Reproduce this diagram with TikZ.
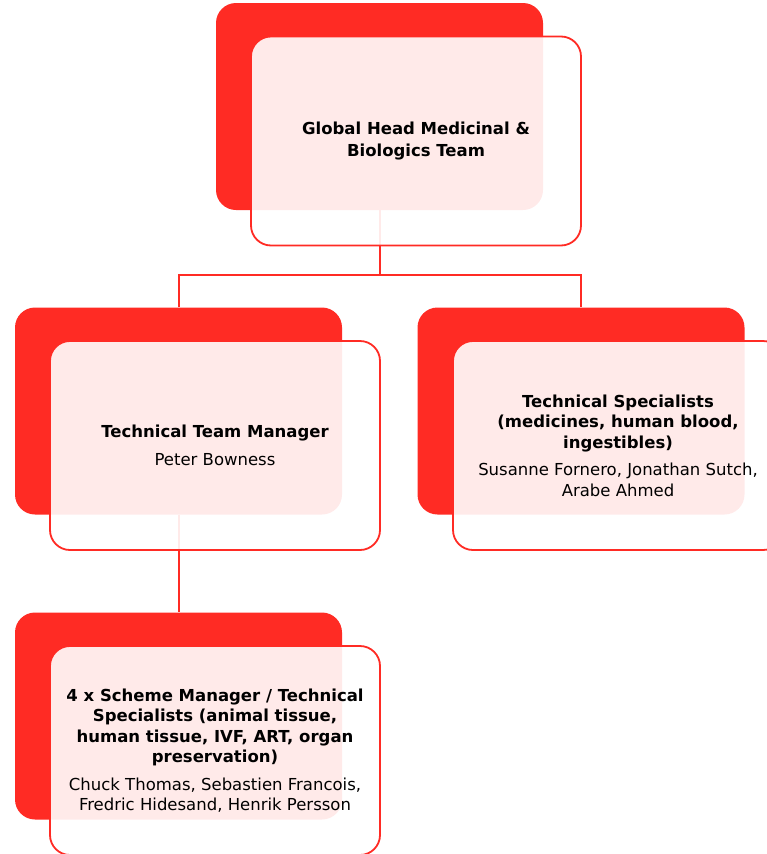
\documentclass[tikz,border=0pt]{standalone}
\usepackage{fontspec}
\setmainfont{DejaVu Sans}
\begin{document}
\begin{tikzpicture}[x=1pt,y=-1pt,
  back/.style={rectangle, rounded corners=20pt, fill=myred, draw=none,
    minimum width=327pt, minimum height=207pt, inner sep=0pt},
  front/.style={rectangle, rounded corners=20pt, draw=myred, line width=1.8pt,
    fill=white, fill opacity=0.9, text opacity=1, align=center,
    minimum width=330pt, minimum height=209pt, inner sep=0pt,
    font=\fontsize{16.5pt}{20.5pt}\selectfont},
  conn/.style={draw=myred, line width=2pt}
]
\definecolor{myred}{RGB}{255,43,36}
\useasboundingbox (0,0) rectangle (767,854);
% back boxes
\node[back] (topR) at (379.5,106.5) {};
\node[back] (leftR) at (178.5,411) {};
\node[back] (rightR) at (581,411) {};
\node[back] (botR) at (178.5,716) {};
% connectors
\coordinate (j) at (379.5,275);
\draw[conn] (topR.south) -- (j);
\draw[conn] (leftR.north) |- (j) -| (rightR.north);
\draw[conn] (leftR.south) -- (botR.north);
% front boxes
\node[front] (topF) at (416,141) {\textbf{Global Head Medicinal \&}\\[1.5pt]\textbf{Biologics Team}};
\node[front] (leftF) at (215,445.5) {\textbf{Technical Team Manager}\\[8pt]Peter Bowness};
\node[front] (rightF) at (618,445.5) {\textbf{Technical Specialists}\\\textbf{(medicines, human blood,}\\\textbf{ingestibles)}\\[7pt]Susanne Fornero, Jonathan Sutch,\\Arabe Ahmed};
\node[front] (botF) at (215,750.5) {\textbf{4 x Scheme Manager / Technical}\\\textbf{Specialists (animal tissue,}\\\textbf{human tissue, IVF, ART, organ}\\\textbf{preservation)}\\[7pt]Chuck Thomas, Sebastien Francois,\\Fredric Hidesand, Henrik Persson};
\end{tikzpicture}
\end{document}
